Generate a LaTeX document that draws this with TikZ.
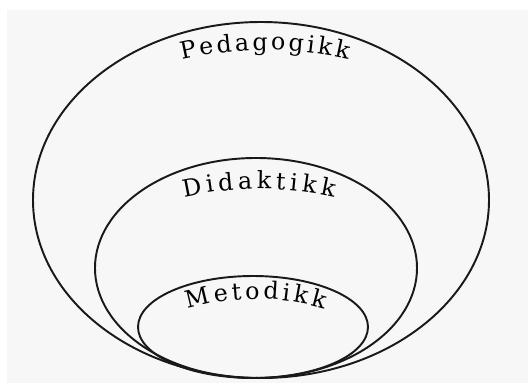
\documentclass[tikz,border=0pt]{standalone}
\usepackage{fontspec}
\newfontfamily\labelfont{DejaVu Serif}
\newcommand\arcfont{\labelfont\fontsize{13.5}{16}\selectfont}
\usetikzlibrary{decorations.text}

\begin{document}
\begin{tikzpicture}[
    x=0.02cm, y=0.02cm,
    ring/.style={draw=black!90, line width=1.1pt},
    curvedlabel/.style={
        decorate,
        decoration={text along path, text={#1},
            text align={fit to path},
            text format delimiters={|}{|}}
    },
]

% Paper
\useasboundingbox (0,0) rectangle (528,-385);
\fill[white] (0,0) rectangle (528,-385);
\fill[black!3] (7,-10) rectangle (528,-383);

% Ellipses, all touching at the bottom
\draw[ring] (261,-200) ellipse [x radius=228, y radius=178];
\draw[ring] (256,-268) ellipse [x radius=161, y radius=110];
\draw[ring] (253,-327) ellipse [x radius=115, y radius=51];

% Labels along arcs
\path[curvedlabel={|\arcfont|Pedagogikk}]
    (265,-420) ++(103:370) arc[start angle=103, end angle=77, radius=370];
\path[curvedlabel={|\arcfont|Didaktikk}]
    (259,-535) ++(102.5:346) arc[start angle=102.5, end angle=77.5, radius=346];
\path[curvedlabel={|\arcfont|Metodikk}]
    (256,-539) ++(106.5:240) arc[start angle=106.5, end angle=73.5, radius=240];

\end{tikzpicture}
\end{document}
